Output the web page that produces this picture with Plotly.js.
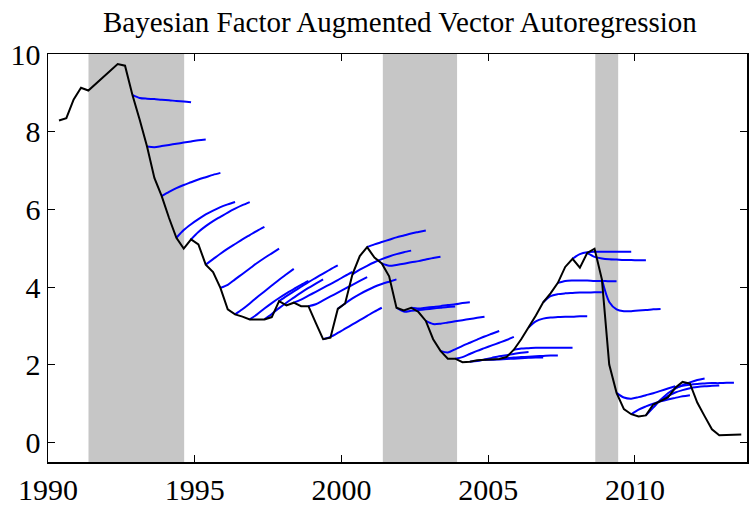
<!DOCTYPE html>
<html>
<head>
<meta charset="utf-8">
<script src="https://cdn.plot.ly/plotly-3.0.1.min.js"></script>
<style>html,body{margin:0;padding:0;background:#fff;}#chart{width:749px;height:505px;}</style>
</head>
<body>
<div id="chart"></div>
<script>
// Quarterly observed series, first observation 1990 Q2 (plotted at mid-quarter)
const firstYear = 1990;
const firstQuarter = 2;
const actual = [
  8.29, 8.35, 8.83,
  9.13, 9.06, 9.23, 9.42,
  9.58, 9.74, 9.70, 8.95,
  8.31, 7.62, 6.81, 6.34,
  5.78, 5.27, 4.99, 5.23,
  5.10, 4.58, 4.39, 3.98,
  3.43, 3.30, 3.24, 3.17,
  3.17, 3.17, 3.23, 3.64,
  3.53, 3.60, 3.51, 3.51,
  3.08, 2.66, 2.70, 3.44,
  3.58, 4.33, 4.80, 5.03,
  4.76, 4.61, 4.28, 3.47,
  3.40, 3.47, 3.36, 3.13,
  2.66, 2.36, 2.16, 2.16,
  2.07, 2.08, 2.12, 2.13,
  2.14, 2.15, 2.20, 2.39,
  2.66, 2.96, 3.27, 3.61,
  3.84, 4.11, 4.52, 4.73,
  4.50, 4.88, 4.99, 4.20,
  2.01, 1.28, 0.86, 0.73,
  0.67, 0.70, 0.98, 1.07,
  1.16, 1.41, 1.56, 1.52,
  1.03, 0.68, 0.34, 0.19,
  0.20, 0.21, 0.21
];

// Forecast origins (year + quarter) and 8-quarter-ahead forecast paths (origin value first)
const forecastOrigins = [
  [1992,4],[1993,2],[1993,4],[1994,2],[1994,4],[1995,2],[1995,4],[1996,2],[1996,4],
  [1997,2],[1997,4],[1998,2],[1998,4],[1999,2],[1999,4],[2000,2],[2000,4],[2001,2],
  [2001,4],[2002,2],[2002,4],[2003,2],[2003,4],[2004,2],[2004,4],[2005,2],[2005,4],
  [2006,2],[2006,4],[2007,2],[2007,4],[2008,2],[2008,4],[2009,2],[2009,4],[2010,2],
  [2010,4],[2011,2]
];
const forecastPaths = [
  [8.95, 8.87, 8.85, 8.84, 8.82, 8.81, 8.79, 8.78, 8.76],
  [7.62, 7.60, 7.63, 7.66, 7.69, 7.72, 7.75, 7.78, 7.80],
  [6.34, 6.45, 6.55, 6.63, 6.70, 6.77, 6.83, 6.89, 6.94],
  [5.27, 5.47, 5.62, 5.75, 5.87, 5.97, 6.06, 6.13, 6.19],
  [5.23, 5.42, 5.57, 5.70, 5.81, 5.92, 6.02, 6.11, 6.19],
  [4.58, 4.72, 4.86, 4.99, 5.11, 5.23, 5.34, 5.45, 5.55],
  [3.98, 4.06, 4.20, 4.34, 4.48, 4.62, 4.75, 4.87, 4.99],
  [3.30, 3.43, 3.58, 3.74, 3.89, 4.04, 4.19, 4.33, 4.47],
  [3.17, 3.30, 3.45, 3.59, 3.72, 3.84, 3.95, 4.06, 4.16],
  [3.17, 3.31, 3.46, 3.60, 3.73, 3.86, 3.98, 4.09, 4.20],
  [3.64, 3.77, 3.89, 4.01, 4.13, 4.24, 4.35, 4.46, 4.56],
  [3.60, 3.68, 3.78, 3.88, 3.98, 4.08, 4.18, 4.29, 4.39],
  [3.51, 3.56, 3.66, 3.76, 3.86, 3.96, 4.06, 4.16, 4.26],
  [2.66, 2.72, 2.82, 2.93, 3.04, 3.15, 3.26, 3.37, 3.47],
  [3.44, 3.58, 3.71, 3.82, 3.92, 4.01, 4.08, 4.14, 4.20],
  [4.33, 4.45, 4.55, 4.64, 4.72, 4.79, 4.85, 4.90, 4.94],
  [5.03, 5.10, 5.16, 5.22, 5.28, 5.33, 5.38, 5.42, 5.46],
  [4.61, 4.55, 4.57, 4.60, 4.64, 4.67, 4.71, 4.75, 4.78],
  [3.47, 3.37, 3.39, 3.41, 3.43, 3.45, 3.47, 3.49, 3.50],
  [3.47, 3.45, 3.47, 3.49, 3.51, 3.54, 3.56, 3.59, 3.61],
  [3.13, 3.05, 3.06, 3.09, 3.12, 3.15, 3.18, 3.21, 3.24],
  [2.36, 2.32, 2.40, 2.49, 2.57, 2.65, 2.73, 2.80, 2.87],
  [2.16, 2.20, 2.28, 2.36, 2.43, 2.50, 2.57, 2.64, 2.72],
  [2.08, 2.10, 2.14, 2.18, 2.22, 2.25, 2.28, 2.31, 2.33],
  [2.13, 2.13, 2.14, 2.15, 2.16, 2.17, 2.18, 2.19, 2.19],
  [2.15, 2.17, 2.19, 2.20, 2.21, 2.22, 2.23, 2.24, 2.24],
  [2.39, 2.42, 2.43, 2.44, 2.44, 2.44, 2.44, 2.44, 2.44],
  [2.96, 3.12, 3.19, 3.22, 3.23, 3.24, 3.24, 3.25, 3.25],
  [3.61, 3.77, 3.82, 3.84, 3.85, 3.86, 3.86, 3.87, 3.87],
  [4.11, 4.16, 4.17, 4.17, 4.17, 4.16, 4.16, 4.15, 4.15],
  [4.73, 4.85, 4.90, 4.91, 4.91, 4.91, 4.91, 4.91, 4.91],
  [4.88, 4.78, 4.74, 4.72, 4.71, 4.70, 4.70, 4.69, 4.69],
  [4.20, 3.62, 3.43, 3.38, 3.38, 3.40, 3.41, 3.43, 3.44],
  [1.28, 1.16, 1.13, 1.17, 1.22, 1.27, 1.33, 1.39, 1.45],
  [0.73, 0.85, 0.93, 1.00, 1.06, 1.11, 1.15, 1.19, 1.22],
  [0.70, 0.90, 1.10, 1.27, 1.39, 1.48, 1.55, 1.61, 1.65],
  [1.07, 1.20, 1.29, 1.35, 1.40, 1.43, 1.45, 1.46, 1.47],
  [1.41, 1.46, 1.49, 1.51, 1.52, 1.53, 1.53, 1.54, 1.54]
];

// Shaded periods (start, end) in fractional years
const recessionStarts = [1991.38, 2001.41, 2008.65];
const recessionEnds   = [1994.64, 2003.94, 2009.43];

const xTicks = [1990, 1995, 2000, 2005, 2010];
const yTicks = [0, 2, 4, 6, 8, 10];
const titleText = 'Bayesian Factor Augmented Vector Autoregression';

// helpers
function qDate(year, q) { return year + (q - 0.5) / 4; }
const actualX = actual.map((_, i) => {
  const k = (firstQuarter - 1) + i;
  return qDate(firstYear + Math.floor(k / 4), (k % 4) + 1);
});

const traces = [];
forecastPaths.forEach((path, j) => {
  const o = forecastOrigins[j];
  const x0 = qDate(o[0], o[1]);
  traces.push({
    x: path.map((_, h) => x0 + h / 4),
    y: path,
    type: 'scatter', mode: 'lines',
    line: {color: '#0000ff', width: 2, shape: 'spline', smoothing: 0.8},
    hoverinfo: 'skip', showlegend: false
  });
});
traces.push({
  x: actualX, y: actual,
  type: 'scatter', mode: 'lines',
  line: {color: '#000000', width: 2},
  hoverinfo: 'skip', showlegend: false
});

const shapes = recessionStarts.map((s, i) => ({
  type: 'rect', xref: 'x', yref: 'paper',
  x0: s, x1: recessionEnds[i], y0: 0, y1: 1,
  fillcolor: '#c6c6c6', line: {width: 0}, layer: 'below'
}));

const font = {family: '"Liberation Serif", "Times New Roman", serif', color: '#000'};
const axisCommon = {
  showgrid: false, zeroline: false, showline: true,
  linecolor: '#000', linewidth: 1.5, mirror: 'ticks',
  ticks: 'inside', ticklen: 7, tickwidth: 1, tickcolor: '#000',
  tickfont: Object.assign({size: 30}, font)
};

const layout = {
  width: 749, height: 505,
  margin: {l: 48, r: 2, t: 54, b: 43, pad: 0},
  paper_bgcolor: '#fff', plot_bgcolor: '#fff',
  showlegend: false,
  title: {text: titleText, font: Object.assign({size: 29}, font),
          x: 0.534, xanchor: 'center', y: 0.957, yanchor: 'middle', yref: 'container'},
  xaxis: Object.assign({range: [1990, 2013.82], tickvals: xTicks, ticktext: xTicks.map(String)}, axisCommon),
  yaxis: Object.assign({range: [-0.5, 10], tickvals: yTicks, ticktext: yTicks.map(String)}, axisCommon),
  shapes: shapes
};

Plotly.newPlot('chart', traces, layout, {staticPlot: true, displayModeBar: false});
</script>
</body>
</html>
